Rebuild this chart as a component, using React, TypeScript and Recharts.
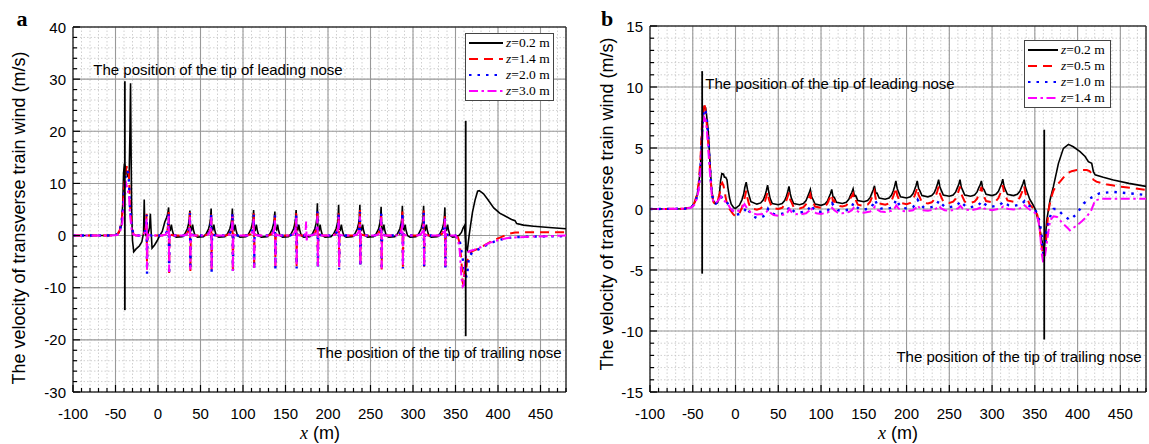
import React from "react";
import { LineChart, Line, XAxis, YAxis, CartesianGrid, ReferenceLine } from "recharts";

type P = [number, number];

// ---------- panel a : z = 0.2 / 1.4 / 2.0 / 3.0 m ----------
const aZ02: P[] = [
  [-100, 0], [-60, 0], [-50, 0.1], [-46, 0.5], [-43, 2], [-41.5, 6], [-40.5, 12], [-39.5, 13.8], [-38, 13], [-36, 11.5],
  [-34, 11], [-33, 20], [-32.3, 29.2], [-31.6, 15], [-31, 5], [-30, -1], [-28.5, -3.1], [-26, -2.6], [-22, -2], [-19, -1.2],
  [-17, 0.5], [-16.2, 6.9], [-15.5, 1], [-14, 0], [-12, 0.2], [-10, 1.5], [-9, 4.2], [-8.3, 1.5], [-7, -2.4], [-4, -1.8],
  [-1, -1], [2, 0], [5, 0.8], [8, 2.6], [10, 3.4], [11.5, 4.2],
  [12.5, 5.4], [13.1, 1.4], [14.5, 1.1], [15.7, 2.1], [16.7, 1.1], [18.5, 0], [21.5, -0.3],
  [28.5, -0.2], [31.5, 0.3], [34.5, 1.3], [36, 2.3], [36.8, 3.2], [37.5, 4.8], [38.1, 1.4], [39.5, 1.1], [40.7, 2.1], [41.7, 1.1], [43.5, 0], [46.5, -0.3],
  [53.5, -0.2], [56.5, 0.3], [59.5, 1.3], [61, 2.3], [61.8, 3.2], [62.5, 5.2], [63.1, 1.4], [64.5, 1.1], [65.7, 2.1], [66.7, 1.1], [68.5, 0], [71.5, -0.3],
  [78.5, -0.2], [81.5, 0.3], [84.5, 1.3], [86, 2.3], [86.8, 3.2], [87.5, 5.2], [88.1, 1.4], [89.5, 1.1], [90.7, 2.1], [91.7, 1.1], [93.5, 0], [96.5, -0.3],
  [103.5, -0.2], [106.5, 0.3], [109.5, 1.3], [111, 2.3], [111.8, 3.2], [112.5, 4.9], [113.1, 1.4], [114.5, 1.1], [115.7, 2.1], [116.7, 1.1], [118.5, 0], [121.5, -0.3],
  [128.5, -0.2], [131.5, 0.3], [134.5, 1.3], [136, 2.3], [136.8, 3.2], [137.5, 4.6], [138.1, 1.4], [139.5, 1.1], [140.7, 2.1], [141.7, 1.1], [143.5, 0], [146.5, -0.3],
  [153.5, -0.2], [156.5, 0.3], [159.5, 1.3], [161, 2.3], [161.8, 3.2], [162.5, 4.9], [163.1, 1.4], [164.5, 1.1], [165.7, 2.1], [166.7, 1.1], [168.5, 0], [171.5, -0.3],
  [178.5, -0.2], [181.5, 0.3], [184.5, 1.3], [186, 2.3], [186.8, 3.2], [187.5, 6.2], [188.1, 1.4], [189.5, 1.1], [190.7, 2.1], [191.7, 1.1], [193.5, 0], [196.5, -0.3],
  [203.5, -0.2], [206.5, 0.3], [209.5, 1.3], [211, 2.3], [211.8, 3.2], [212.5, 5.9], [213.1, 1.4], [214.5, 1.1], [215.7, 2.1], [216.7, 1.1], [218.5, 0], [221.5, -0.3],
  [228.5, -0.2], [231.5, 0.3], [234.5, 1.3], [236, 2.3], [236.8, 3.2], [237.5, 5.9], [238.1, 1.4], [239.5, 1.1], [240.7, 2.1], [241.7, 1.1], [243.5, 0], [246.5, -0.3],
  [253.5, -0.2], [256.5, 0.3], [259.5, 1.3], [261, 2.3], [261.8, 3.2], [262.5, 5.5], [263.1, 1.4], [264.5, 1.1], [265.7, 2.1], [266.7, 1.1], [268.5, 0], [271.5, -0.3],
  [278.5, -0.2], [281.5, 0.3], [284.5, 1.3], [286, 2.3], [286.8, 3.2], [287.5, 5.7], [288.1, 1.4], [289.5, 1.1], [290.7, 2.1], [291.7, 1.1], [293.5, 0], [296.5, -0.3],
  [303.5, -0.2], [306.5, 0.3], [309.5, 1.3], [311, 2.3], [311.8, 3.2], [312.5, 5.7], [313.1, 1.4], [314.5, 1.1], [315.7, 2.1], [316.7, 1.1], [318.5, 0], [321.5, -0.3],
  [328.5, -0.2], [331.5, 0.3], [334.5, 1.3], [336, 2.3], [336.8, 3.2], [337.5, 5.4], [338.1, 1.4], [339.5, 1.1], [340.7, 2.1], [341.7, 1.1], [343.5, 0], [346.5, -0.3],
  [350, -0.2], [354, 0], [357, 0.6], [359, 1.5], [360.5, 1.9], [361.5, 0], [362.5, -2.4], [364, -2.8], [366, 0], [368, 2.3],
  [370, 4.5], [373, 6.8], [376, 8.5], [378, 8.6], [383, 8.0], [388, 6.9], [395, 5.3], [402, 4.3], [410, 3.6], [416, 3.1],
  [420, 2.85], [422, 2.3], [430, 2.0], [442, 1.8], [460, 1.55], [480, 1.3],
];

const aZ14: P[] = [
  [-100, 0], [-55, 0], [-48, 0.2], [-45, 1], [-42, 4], [-40, 9], [-38, 12.5], [-36, 13.5], [-35, 13.3], [-34, 11],
  [-33, 6], [-31, 2], [-29, 0.3], [-26, 0],
  [-21, 0], [-17, 0.3], [-15, 1.0], [-14, 2.0], [-13.4, 4.2], [-12.9, -6.5], [-12.4, 0.3], [-10, 0.1], [-7, 0],
  [5, 0], [9, 0.3], [11, 1.0], [12, 2.0], [12.6, 4.5], [13.1, -7.2], [13.6, 0.3], [16, 0.1], [19, 0],
  [30, 0], [34, 0.3], [36, 1.0], [37, 2.0], [37.6, 4.6], [38.1, -6.8], [38.6, 0.3], [41, 0.1], [44, 0],
  [55, 0], [59, 0.3], [61, 1.0], [62, 2.0], [62.6, 4.5], [63.1, -6.8], [63.6, 0.3], [66, 0.1], [69, 0],
  [80, 0], [84, 0.3], [86, 1.0], [87, 2.0], [87.6, 4.5], [88.1, -7.0], [88.6, 0.3], [91, 0.1], [94, 0],
  [105, 0], [109, 0.3], [111, 1.0], [112, 2.0], [112.6, 4.3], [113.1, -6.5], [113.6, 0.3], [116, 0.1], [119, 0],
  [130, 0], [134, 0.3], [136, 1.0], [137, 2.0], [137.6, 4.2], [138.1, -6.0], [138.6, 0.3], [141, 0.1], [144, 0],
  [155, 0], [159, 0.3], [161, 1.0], [162, 2.0], [162.6, 4.3], [163.1, -6.2], [163.6, 0.3], [166, 0.1], [169, 0],
  [180, 0], [184, 0.3], [186, 1.0], [187, 2.0], [187.6, 5.0], [188.1, -6.2], [188.6, 0.3], [191, 0.1], [194, 0],
  [205, 0], [209, 0.3], [211, 1.0], [212, 2.0], [212.6, 4.6], [213.1, -6.0], [213.6, 0.3], [216, 0.1], [219, 0],
  [230, 0], [234, 0.3], [236, 1.0], [237, 2.0], [237.6, 4.9], [238.1, -5.5], [238.6, 0.3], [241, 0.1], [244, 0],
  [255, 0], [259, 0.3], [261, 1.0], [262, 2.0], [262.6, 4.4], [263.1, -6.5], [263.6, 0.3], [266, 0.1], [269, 0],
  [280, 0], [284, 0.3], [286, 1.0], [287, 2.0], [287.6, 4.6], [288.1, -6.0], [288.6, 0.3], [291, 0.1], [294, 0],
  [305, 0], [309, 0.3], [311, 1.0], [312, 2.0], [312.6, 4.8], [313.1, -6.0], [313.6, 0.3], [316, 0.1], [319, 0],
  [330, 0], [334, 0.3], [336, 1.0], [337, 2.0], [337.6, 4.0], [338.1, -6.0], [338.6, 0.3], [341, 0.1], [344, 0],
  [350, 0], [353, -0.4], [355, -1.5], [357, -5], [358.5, -9], [359.5, -9.5], [360.5, -7], [362, -7.5], [363.5, -5], [366, -3.5],
  [370, -3], [378, -2.4], [388, -1.5], [396, -0.8], [405, -0.2], [412, 0.3], [420, 0.6], [440, 0.65], [480, 0.65],
];

const aZ20: P[] = [
  [-100, 0], [-55, 0], [-48, 0.2], [-45, 0.8], [-42, 3.5], [-40, 8], [-38, 11.5], [-36.5, 12.5], [-35, 12], [-34, 10],
  [-33, 5.5], [-31, 1.8], [-29, 0.3], [-26, 0],
  [-21, 0], [-17, 0.3], [-15, 0.9], [-14, 1.8], [-13.4, 4.0], [-12.9, -7.3], [-12.4, 0.3], [-10, 0.1], [-7, 0],
  [5, 0], [9, 0.3], [11, 0.9], [12, 1.8], [12.6, 4.3], [13.1, -7.5], [13.6, 0.3], [16, 0.1], [19, 0],
  [30, 0], [34, 0.3], [36, 0.9], [37, 1.8], [37.6, 4.3], [38.1, -6.5], [38.6, 0.3], [41, 0.1], [44, 0],
  [55, 0], [59, 0.3], [61, 0.9], [62, 1.8], [62.6, 4.2], [63.1, -7.0], [63.6, 0.3], [66, 0.1], [69, 0],
  [80, 0], [84, 0.3], [86, 0.9], [87, 1.8], [87.6, 4.3], [88.1, -6.8], [88.6, 0.3], [91, 0.1], [94, 0],
  [105, 0], [109, 0.3], [111, 0.9], [112, 1.8], [112.6, 4.0], [113.1, -6.5], [113.6, 0.3], [116, 0.1], [119, 0],
  [130, 0], [134, 0.3], [136, 0.9], [137, 1.8], [137.6, 3.9], [138.1, -6.3], [138.6, 0.3], [141, 0.1], [144, 0],
  [155, 0], [159, 0.3], [161, 0.9], [162, 1.8], [162.6, 4.1], [163.1, -6.3], [163.6, 0.3], [166, 0.1], [169, 0],
  [180, 0], [184, 0.3], [186, 0.9], [187, 1.8], [187.6, 4.6], [188.1, -6.3], [188.6, 0.3], [191, 0.1], [194, 0],
  [205, 0], [209, 0.3], [211, 0.9], [212, 1.8], [212.6, 4.4], [213.1, -6.5], [213.6, 0.3], [216, 0.1], [219, 0],
  [230, 0], [234, 0.3], [236, 0.9], [237, 1.8], [237.6, 4.5], [238.1, -6.0], [238.6, 0.3], [241, 0.1], [244, 0],
  [255, 0], [259, 0.3], [261, 0.9], [262, 1.8], [262.6, 4.2], [263.1, -6.6], [263.6, 0.3], [266, 0.1], [269, 0],
  [280, 0], [284, 0.3], [286, 0.9], [287, 1.8], [287.6, 4.4], [288.1, -6.3], [288.6, 0.3], [291, 0.1], [294, 0],
  [305, 0], [309, 0.3], [311, 0.9], [312, 1.8], [312.6, 4.5], [313.1, -6.1], [313.6, 0.3], [316, 0.1], [319, 0],
  [330, 0], [334, 0.3], [336, 0.9], [337, 1.8], [337.6, 3.8], [338.1, -6.3], [338.6, 0.3], [341, 0.1], [344, 0],
  [350, 0], [355, -1], [358, -4], [360, -6], [362, -7.5], [363, -8], [364, -7], [366, -4], [370, -3.2], [380, -2.4],
  [390, -1.5], [400, -0.9], [410, -0.5], [420, -0.3], [440, -0.2], [480, -0.1],
];

const aZ30: P[] = [
  [-100, 0], [-55, 0], [-48, 0.1], [-45, 0.5], [-42, 2.5], [-40, 6.5], [-38.5, 9.5], [-37.5, 10], [-36, 9], [-34, 7.5],
  [-33, 4], [-31, 1.2], [-29, 0.2], [-26, 0],
  [-21, 0], [-17, 0.2], [-15, 0.7], [-14, 1.4], [-13.4, 3.5], [-12.9, -6.5], [-12.4, 0.2], [-10, 0.05], [-7, 0],
  [5, 0], [9, 0.2], [11, 0.7], [12, 1.4], [12.6, 3.8], [13.1, -7.0], [13.6, 0.2], [16, 0.05], [19, 0],
  [30, 0], [34, 0.2], [36, 0.7], [37, 1.4], [37.6, 3.6], [38.1, -6.5], [38.6, 0.2], [41, 0.05], [44, 0],
  [55, 0], [59, 0.2], [61, 0.7], [62, 1.4], [62.6, 3.5], [63.1, -6.6], [63.6, 0.2], [66, 0.05], [69, 0],
  [80, 0], [84, 0.2], [86, 0.7], [87, 1.4], [87.6, 3.6], [88.1, -6.8], [88.6, 0.2], [91, 0.05], [94, 0],
  [105, 0], [109, 0.2], [111, 0.7], [112, 1.4], [112.6, 3.4], [113.1, -6.2], [113.6, 0.2], [116, 0.05], [119, 0],
  [130, 0], [134, 0.2], [136, 0.7], [137, 1.4], [137.6, 3.2], [138.1, -5.8], [138.6, 0.2], [141, 0.05], [144, 0],
  [155, 0], [159, 0.2], [161, 0.7], [162, 1.4], [162.6, 3.4], [163.1, -5.8], [163.6, 0.2], [166, 0.05], [169, 0],
  [172, 0], [173.5, 0.4], [174.3, 2.7], [175, -1.2], [175.6, 0.2], [178, 0],
  [180, 0], [184, 0.2], [186, 0.7], [187, 1.4], [187.6, 3.8], [188.1, -5.9], [188.6, 0.2], [191, 0.05], [194, 0],
  [205, 0], [209, 0.2], [211, 0.7], [212, 1.4], [212.6, 3.6], [213.1, -6.0], [213.6, 0.2], [216, 0.05], [219, 0],
  [230, 0], [234, 0.2], [236, 0.7], [237, 1.4], [237.6, 3.7], [238.1, -5.5], [238.6, 0.2], [241, 0.05], [244, 0],
  [255, 0], [259, 0.2], [261, 0.7], [262, 1.4], [262.6, 3.5], [263.1, -6.3], [263.6, 0.2], [266, 0.05], [269, 0],
  [280, 0], [284, 0.2], [286, 0.7], [287, 1.4], [287.6, 3.6], [288.1, -5.9], [288.6, 0.2], [291, 0.05], [294, 0],
  [305, 0], [309, 0.2], [311, 0.7], [312, 1.4], [312.6, 3.7], [313.1, -5.8], [313.6, 0.2], [316, 0.05], [319, 0],
  [330, 0], [334, 0.2], [336, 0.7], [337, 1.4], [337.6, 3.2], [338.1, -5.9], [338.6, 0.2], [341, 0.05], [344, 0],
  [350, 0], [353, -0.8], [355, -3], [357, -8], [358.5, -9.8], [360, -9.5], [361.5, -5], [363, -3.5], [366, -3], [372, -2.7],
  [380, -2.2], [390, -1.4], [400, -0.9], [410, -0.5], [420, -0.35], [440, -0.2], [480, 0],
];

// vertical markers at the nose tips (panel a)
const aLeadMark: P[] = [[-39, -14.3], [-39, 29.6]];
const aTrailMark: P[] = [[362, -19.3], [362, 22]];

// ---------- panel b : z = 0.2 / 0.5 / 1.0 / 1.4 m ----------
const bZ02: P[] = [
  [-100, 0], [-60, 0.02], [-52, 0.15], [-48, 0.5], [-45, 1.1], [-43, 2], [-41, 3.5], [-39.5, 5.5], [-38, 7.8], [-36.5, 8.4],
  [-35, 8.3], [-34, 7.8], [-32, 6.5], [-30, 4], [-28, 1.6], [-26, 0.7], [-24, 0.45], [-21, 0.5], [-19, 1], [-17.5, 2.3],
  [-16, 2.9], [-14, 2.85], [-13, 2.6], [-11.5, 2.6], [-10, 2.4], [-9, 1.8], [-7, 0.9], [-5, 0.4], [-2, 0.1], [0, 0.05],
  [4.5, 0.3], [7.5, 0.75], [9.5, 1.2], [11, 1.8], [12.5, 2.2], [14, 1.6], [15.5, 1.2], [18, 0.6], [25, 0.4],
  [29.5, 0.5], [32.5, 0.75], [34.5, 1.1], [36, 1.5], [37.5, 1.95], [39, 1.35], [40.5, 0.85], [43, 0.45], [50, 0.35],
  [54.5, 0.45], [57.5, 0.7], [59.5, 1.05], [61, 1.4], [62.5, 1.85], [64, 1.25], [65.5, 0.85], [68, 0.45], [75, 0.35],
  [79.5, 0.45], [82.5, 0.7], [84.5, 1.05], [86, 1.3], [87.5, 1.6], [89, 1.0], [90.5, 0.8], [93, 0.4], [100, 0.3],
  [104.5, 0.4], [107.5, 0.65], [109.5, 1.0], [111, 1.25], [112.5, 1.6], [114, 1.0], [115.5, 0.95], [118, 0.55], [125, 0.45],
  [129.5, 0.55], [132.5, 0.8], [134.5, 1.15], [136, 1.35], [137.5, 1.65], [139, 1.05], [140.5, 1.1], [143, 0.7], [150, 0.6],
  [154.5, 0.7], [157.5, 0.95], [159.5, 1.3], [161, 1.55], [162.5, 1.9], [164, 1.3], [165.5, 1.3], [168, 0.9], [175, 0.8],
  [179.5, 0.9], [182.5, 1.15], [184.5, 1.5], [186, 1.85], [187.5, 2.3], [189, 1.7], [190.5, 1.4], [193, 1.0], [200, 0.9],
  [204.5, 1.0], [207.5, 1.25], [209.5, 1.6], [211, 1.9], [212.5, 2.3], [214, 1.7], [215.5, 1.5], [218, 1.1], [225, 1.0],
  [229.5, 1.1], [232.5, 1.35], [234.5, 1.7], [236, 2.0], [237.5, 2.4], [239, 1.8], [240.5, 1.55], [243, 1.15], [250, 1.05],
  [254.5, 1.15], [257.5, 1.4], [259.5, 1.75], [261, 2.0], [262.5, 2.4], [264, 1.8], [265.5, 1.55], [268, 1.15], [275, 1.05],
  [279.5, 1.15], [282.5, 1.4], [284.5, 1.75], [286, 1.95], [287.5, 2.3], [289, 1.7], [290.5, 1.6], [293, 1.2], [300, 1.1],
  [304.5, 1.2], [307.5, 1.45], [309.5, 1.8], [311, 2.05], [312.5, 2.45], [314, 1.85], [315.5, 1.6], [318, 1.2], [325, 1.1],
  [329.5, 1.2], [332.5, 1.45], [334.5, 1.8], [336, 2.05], [337.5, 2.4], [339, 1.8],
  [341, 1.4], [344, 0.8], [347, 0.45], [350, 0.05], [354, -0.9], [358, -2.5], [360.8, -3.4], [362.5, -2.2], [364, -0.9], [367.8, 0.74],
  [371.7, 1.83], [377.6, 3.74], [383.4, 4.97], [389.3, 5.3], [395, 5.1], [402.9, 4.7], [408.8, 4.3], [412.6, 3.88], [416.5, 3.74], [418.5, 3.06],
  [420.5, 2.8], [430, 2.6], [441.9, 2.38], [460, 2.1], [480, 1.85],
];

const bZ05: P[] = [
  [-100, 0], [-60, 0.02], [-52, 0.15], [-48, 0.5], [-45, 1.2], [-43, 2.2], [-41, 4], [-39.5, 6.5], [-38, 8.4], [-37, 8.7],
  [-35.5, 8.3], [-34, 7.3], [-32, 5.5], [-30, 3.5], [-28, 1.5], [-26, 0.6], [-24, 0.4], [-21, 0.6], [-18.5, 1.3], [-17, 2.0],
  [-15.5, 2.15], [-14, 1.9], [-12.5, 1.3], [-10.5, 0.6], [-7, 0], [-3, -0.4], [0, -0.6],
  [4.5, -0.35], [7.5, 0.1], [9.5, 0.6], [11, 1.0], [12.5, 1.5], [14, 0.9], [15.5, 0.45], [18, 0.05], [25, -0.05],
  [29.5, 0.05], [32.5, 0.3], [34.5, 0.65], [36, 1.0], [37.5, 1.4], [39, 0.8], [40.5, 0.5], [43, 0.1], [50, 0.0],
  [54.5, 0.1], [57.5, 0.35], [59.5, 0.7], [61, 1.0], [62.5, 1.35], [64, 0.75], [65.5, 0.55], [68, 0.15], [75, 0.05],
  [79.5, 0.15], [82.5, 0.4], [84.5, 0.75], [86, 0.95], [87.5, 1.2], [89, 0.6], [90.5, 0.6], [93, 0.2], [100, 0.1],
  [104.5, 0.2], [107.5, 0.45], [109.5, 0.8], [111, 1.0], [112.5, 1.2], [114, 0.6], [115.5, 0.7], [118, 0.3], [125, 0.2],
  [129.5, 0.3], [132.5, 0.55], [134.5, 0.9], [136, 1.05], [137.5, 1.25], [139, 0.65], [140.5, 0.75], [143, 0.35], [150, 0.25],
  [154.5, 0.35], [157.5, 0.6], [159.5, 0.95], [161, 1.15], [162.5, 1.45], [164, 0.85], [165.5, 0.85], [168, 0.45], [175, 0.35],
  [179.5, 0.45], [182.5, 0.7], [184.5, 1.05], [186, 1.35], [187.5, 1.75], [189, 1.15], [190.5, 0.9], [193, 0.5], [200, 0.4],
  [204.5, 0.5], [207.5, 0.75], [209.5, 1.1], [211, 1.4], [212.5, 1.75], [214, 1.15], [215.5, 0.95], [218, 0.55], [225, 0.45],
  [229.5, 0.55], [232.5, 0.8], [234.5, 1.15], [236, 1.45], [237.5, 1.85], [239, 1.25], [240.5, 1.0], [243, 0.6], [250, 0.5],
  [254.5, 0.6], [257.5, 0.85], [259.5, 1.2], [261, 1.5], [262.5, 1.85], [264, 1.25], [265.5, 1.0], [268, 0.6], [275, 0.5],
  [279.5, 0.6], [282.5, 0.85], [284.5, 1.2], [286, 1.45], [287.5, 1.8], [289, 1.2], [290.5, 1.05], [293, 0.65], [300, 0.55],
  [304.5, 0.65], [307.5, 0.9], [309.5, 1.25], [311, 1.55], [312.5, 1.95], [314, 1.35], [315.5, 1.1], [318, 0.7], [325, 0.6],
  [329.5, 0.7], [332.5, 0.95], [334.5, 1.3], [336, 1.55], [337.5, 1.9], [339, 1.3],
  [341, 0.9], [344, 0.35], [347, 0.15], [350, -0.1], [353, -0.5], [355.4, -1.4], [357.5, -2.8], [359.3, -3.6], [361, -3.9], [362.5, -3.2],
  [364, -1.8], [366, -0.1], [369, 0.9], [371.7, 1.5], [375, 1.9], [379.5, 2.24], [387.3, 2.9], [393, 3.1], [399, 3.2], [405, 3.2],
  [410.7, 3.2], [414, 3.1], [416.5, 2.9], [418.5, 2.4], [422, 2.24], [435, 2.0], [449.7, 1.83], [465, 1.7], [480, 1.56],
];

const bZ10: P[] = [
  [-100, 0], [-60, 0.02], [-52, 0.12], [-48, 0.4], [-45, 1.0], [-43, 1.8], [-41, 3.3], [-39.5, 5.5], [-38, 7.6], [-36.5, 8.2],
  [-35, 8.0], [-33.5, 7.4], [-32, 6.0], [-30, 3.6], [-28, 1.5], [-26, 0.6], [-23, 0.45], [-20, 0.7], [-17, 1.0], [-15, 0.9],
  [-12, 0.7], [-9, 0.45], [-6, 0.15], [-3, -0.2], [0, -0.5],
  [7.5, -0.35], [11, -0.1], [13, 0.15], [15.5, -0.15], [19.5, -0.55], [25, -0.75],
  [32.5, -0.6], [36, -0.35], [38, 0.0], [40.5, -0.3], [44.5, -0.4], [50, -0.45],
  [57.5, -0.35], [61, -0.1], [63, 0.2], [65.5, -0.05], [69.5, -0.25], [75, -0.3],
  [82.5, -0.2], [86, 0.05], [88, 0.35], [90.5, 0.1], [94.5, -0.2], [100, -0.25],
  [107.5, -0.15], [111, 0.15], [113, 0.45], [115.5, 0.2], [119.5, -0.1], [125, -0.15],
  [132.5, -0.05], [136, 0.2], [138, 0.5], [140.5, 0.25], [144.5, 0.0], [150, -0.05],
  [157.5, 0.05], [161, 0.4], [163, 0.75], [165.5, 0.4], [169.5, 0.05], [175, 0.0],
  [182.5, 0.1], [186, 0.45], [188, 0.8], [190.5, 0.45], [194.5, 0.1], [200, 0.05],
  [207.5, 0.15], [211, 0.45], [213, 0.75], [215.5, 0.45], [219.5, 0.15], [225, 0.1],
  [232.5, 0.2], [236, 0.45], [238, 0.7], [240.5, 0.45], [244.5, 0.2], [250, 0.15],
  [257.5, 0.25], [261, 0.45], [263, 0.65], [265.5, 0.45], [269.5, 0.2], [275, 0.15],
  [282.5, 0.25], [286, 0.45], [288, 0.65], [290.5, 0.45], [294.5, 0.25], [300, 0.2],
  [307.5, 0.3], [311, 0.45], [313, 0.6], [315.5, 0.45], [319.5, 0.3], [325, 0.25],
  [332.5, 0.35], [336, 0.5], [338, 0.65], [341, 0.35], [345, 0.2], [350, 0.0], [354, -0.6], [356, -1.2], [358, -2.2], [360, -3.8],
  [361.5, -3.3], [363, -2.2], [364.5, -1.5], [368, -0.6], [372, 0.0], [376, 0.0], [383, -0.5], [391, -0.9], [399, -0.4], [407, 0.45],
  [414, 0.85], [426, 1.3], [442, 1.4], [458, 1.3], [480, 1.15],
];

const bZ14: P[] = [
  [-100, 0], [-60, 0.02], [-52, 0.1], [-48, 0.35], [-45, 0.9], [-43, 1.6], [-41, 3], [-39.5, 5], [-38, 6.8], [-36.5, 7.5],
  [-35, 7.3], [-33.5, 6.5], [-32, 5.0], [-30, 3.0], [-28, 1.3], [-26, 0.6], [-23, 0.5], [-20, 0.7], [-17, 1.0], [-15, 0.8],
  [-12, 0.6], [-9, 0.4], [-6, 0.05], [-3, -0.15], [0, -0.25],
  [5, -0.1], [8.5, 0.2], [10.5, 0.4], [13.5, 0.05], [18, -0.3], [25, -0.45],
  [32.5, -0.4], [36, -0.25], [38, -0.1], [40.5, -0.3], [44.5, -0.5], [50, -0.55],
  [57.5, -0.45], [61, -0.25], [63, 0.0], [65.5, -0.25], [69.5, -0.4], [75, -0.45],
  [82.5, -0.35], [86, -0.15], [88, 0.1], [90.5, -0.15], [94.5, -0.35], [100, -0.4],
  [107.5, -0.3], [111, -0.1], [113, 0.1], [115.5, -0.1], [119.5, -0.3], [125, -0.35],
  [132.5, -0.25], [136, -0.1], [138, 0.1], [140.5, -0.1], [144.5, -0.25], [150, -0.3],
  [157.5, -0.2], [161, 0.0], [163, 0.2], [165.5, -0.05], [169.5, -0.2], [175, -0.25],
  [182.5, -0.15], [186, 0.05], [188, 0.3], [190.5, 0.05], [194.5, -0.15], [200, -0.2],
  [207.5, -0.1], [211, 0.1], [213, 0.3], [215.5, 0.05], [219.5, -0.1], [225, -0.15],
  [232.5, -0.05], [236, 0.1], [238, 0.25], [240.5, 0.05], [244.5, -0.1], [250, -0.15],
  [257.5, -0.05], [261, 0.1], [263, 0.25], [265.5, 0.05], [269.5, -0.05], [275, -0.1],
  [282.5, 0.0], [286, 0.1], [288, 0.2], [290.5, 0.05], [294.5, -0.05], [300, -0.1],
  [307.5, 0.0], [311, 0.1], [313, 0.2], [315.5, 0.05], [319.5, 0.0], [325, -0.05],
  [332.5, 0.05], [336, 0.15], [338, 0.3], [341, 0.1], [345, -0.1], [350, -0.3], [354, -0.9], [356, -1.8], [358, -3.6], [360, -4.5],
  [362, -3.8], [364, -2.8], [366, -1.8], [368, -0.9], [372, -0.6], [376, -0.65], [383, -1.2], [389, -1.6], [391, -1.75], [399, -1.35],
  [405, -1.0], [411, -0.6], [416, -0.1], [420.5, 0.7], [428, 0.85], [440, 0.85], [480, 0.85],
];

const bLeadMark: P[] = [[-39, -5.3], [-39, 11.3]];
const bTrailMark: P[] = [[361, -10.7], [361, 6.5]];

// axis ticks
const xTicks = [-100, -90, -80, -70, -60, -50, -40, -30, -20, -10, 0, 10, 20, 30, 40, 50, 60, 70, 80, 90, 100, 110, 120, 130, 140, 150, 160, 170, 180, 190, 200, 210, 220, 230, 240, 250, 260, 270, 280, 290, 300, 310, 320, 330, 340, 350, 360, 370, 380, 390, 400, 410, 420, 430, 440, 450, 460, 470, 480];
const xMajor = [-50, 0, 50, 100, 150, 200, 250, 300, 350, 400, 450];
const aYTicks = [-30, -28, -26, -24, -22, -20, -18, -16, -14, -12, -10, -8, -6, -4, -2, 0, 2, 4, 6, 8, 10, 12, 14, 16, 18, 20, 22, 24, 26, 28, 30, 32, 34, 36, 38, 40];
const aYMajor = [-20, -10, 0, 10, 20, 30];
const bYTicks = [-15, -14, -13, -12, -11, -10, -9, -8, -7, -6, -5, -4, -3, -2, -1, 0, 1, 2, 3, 4, 5, 6, 7, 8, 9, 10, 11, 12, 13, 14, 15];
const bYMajor = [-10, -5, 0, 5, 10];

const aLabels = ["=0.2 m", "=1.4 m", "=2.0 m", "=3.0 m"];
const bLabels = ["=0.2 m", "=0.5 m", "=1.0 m", "=1.4 m"];

const SANS = '"Liberation Sans", Arial, sans-serif';
const SERIF = '"Liberation Serif", "Times New Roman", serif';

const styles = [
  { stroke: "#000000", dash: undefined as string | undefined, width: 1.6 },
  { stroke: "#ff0000", dash: "9 6", width: 2 },
  { stroke: "#0000ff", dash: "2.5 6", width: 2.4 },
  { stroke: "#ff00ff", dash: "9 3.5 2.5 3.5", width: 2 },
];

const toPts = (arr: P[]) => arr.map(([x, y]) => ({ x, y }));

const isMul = (v: number, m: number) => Math.abs(v / m - Math.round(v / m)) < 1e-6;

const makeXTick = (major: number) => (props: any) => {
  const { x, y, payload } = props;
  const big = isMul(payload.value, major);
  return (
    <g>
      <line x1={x} x2={x} y1={y} y2={y - (big ? 7 : 4)} stroke="#000" strokeWidth={1.2} />
      {big && (
        <text x={x} y={y + 27} textAnchor="middle" fontSize={15} fontFamily={SANS} fill="#000">
          {payload.value}
        </text>
      )}
    </g>
  );
};

const makeYTick = (major: number) => (props: any) => {
  const { x, y, payload } = props;
  const big = isMul(payload.value, major);
  return (
    <g>
      <line x1={x} x2={x + (big ? 7 : 4)} y1={y} y2={y} stroke="#000" strokeWidth={1.2} />
      {big && (
        <text x={x - 7} y={y + 5.5} textAnchor="end" fontSize={15} fontFamily={SANS} fill="#000">
          {payload.value}
        </text>
      )}
    </g>
  );
};

function Txt({ x, y, children, style }: { x: number; y: number; children: React.ReactNode; style?: React.CSSProperties }) {
  return (
    <div
      style={{
        position: "absolute", left: x, top: y, transform: "translate(-50%, -50%)",
        whiteSpace: "nowrap", fontFamily: SANS, fontSize: 15, color: "#000", lineHeight: 1, ...style,
      }}
    >
      {children}
    </div>
  );
}

function LegendBox({ left, top, width, labels, sample }: { left: number; top: number; width: number; labels: string[]; sample: number }) {
  return (
    <div
      style={{
        position: "absolute", left, top, width, background: "#fff", border: "1px solid #444",
        padding: "1px 0 1px 2px", boxSizing: "border-box",
      }}
    >
      {labels.map((lab, i) => (
        <div key={lab} style={{ display: "flex", alignItems: "center", height: 16, whiteSpace: "nowrap" }}>
          <svg width={sample} height={10} style={{ display: "block", flex: "none" }}>
            <line x1={1} x2={sample - 1} y1={5} y2={5} stroke={styles[i].stroke} strokeWidth={i === 0 ? 2 : 2.2} strokeDasharray={styles[i].dash} />
          </svg>
          <span style={{ fontFamily: SERIF, fontSize: 13.5, marginLeft: 2, color: "#000", lineHeight: 1 }}>
            <i>z</i>{lab}
          </span>
        </div>
      ))}
    </div>
  );
}

type PanelProps = {
  series: P[][];
  marks: P[][];
  yDomain: [number, number];
  yTicks: number[];
  yMajor: number[];
  yMajorStep: number;
  width: number;
  margin: { top: number; right: number; bottom: number; left: number };
};

function Panel({ series, marks, yDomain, yTicks, yMajor, yMajorStep, width, margin }: PanelProps) {
  return (
    <LineChart width={width} height={444} margin={margin}>
      <CartesianGrid stroke="#c4c4c4" strokeDasharray="1.5 2" strokeWidth={0.8} />
      {xMajor.map((v) => (
        <ReferenceLine key={"vx" + v} x={v} stroke="#999" strokeWidth={1.1} />
      ))}
      {yMajor.map((v) => (
        <ReferenceLine key={"hy" + v} y={v} stroke="#999" strokeWidth={1.1} />
      ))}
      <ReferenceLine x={480} stroke="#333" strokeWidth={1.5} />
      <ReferenceLine y={yDomain[1]} stroke="#333" strokeWidth={1.5} />
      <XAxis
        type="number" dataKey="x" domain={[-100, 480]} ticks={xTicks} allowDataOverflow interval={0}
        height={30} tickSize={0} tickMargin={0} tickLine={false}
        axisLine={{ stroke: "#333", strokeWidth: 1.5 }} tick={makeXTick(50)}
      />
      <YAxis
        type="number" domain={yDomain} ticks={yTicks} allowDataOverflow interval={0}
        width={40} tickSize={0} tickMargin={0} tickLine={false}
        axisLine={{ stroke: "#333", strokeWidth: 1.5 }} tick={makeYTick(yMajorStep)}
      />
      {series.map((s, i) => (
        <Line
          key={"s" + i} data={toPts(s)} dataKey="y" type="linear" dot={false} activeDot={false}
          stroke={styles[i].stroke} strokeWidth={styles[i].width} strokeDasharray={styles[i].dash}
          isAnimationActive={false}
        />
      ))}
      {marks.map((m, i) => (
        <Line
          key={"m" + i} data={toPts(m)} dataKey="y" type="linear" dot={false} activeDot={false}
          stroke="#000" strokeWidth={1.8} isAnimationActive={false}
        />
      ))}
    </LineChart>
  );
}

export default function App() {
  const yTitle = "The velocity of transverse train wind (m/s)";
  return (
    <div style={{ position: "absolute", left: 0, top: 0, width: 1149, height: 444, background: "#fff", overflow: "hidden" }}>
      <div style={{ position: "absolute", left: 0, top: 0 }}>
        <Panel
          series={[aZ02, aZ14, aZ20, aZ30]} marks={[aLeadMark, aTrailMark]}
          yDomain={[-30, 40]} yTicks={aYTicks} yMajor={aYMajor} yMajorStep={10}
          width={575} margin={{ top: 27, right: 9, bottom: 22, left: 33 }}
        />
      </div>
      <div style={{ position: "absolute", left: 575, top: 0 }}>
        <Panel
          series={[bZ02, bZ05, bZ10, bZ14]} marks={[bLeadMark, bTrailMark]}
          yDomain={[-15, 15]} yTicks={bYTicks} yMajor={bYMajor} yMajorStep={5}
          width={574} margin={{ top: 26, right: 3, bottom: 22, left: 35 }}
        />
      </div>

      <Txt x={22} y={19} style={{ fontFamily: SERIF, fontWeight: "bold", fontSize: 22 }}>a</Txt>
      <Txt x={607} y={19} style={{ fontFamily: SERIF, fontWeight: "bold", fontSize: 22 }}>b</Txt>

      <Txt x={19} y={218} style={{ fontSize: 18, transform: "translate(-50%, -50%) rotate(-90deg)" }}>{yTitle}</Txt>
      <Txt x={607} y={204} style={{ fontSize: 18, transform: "translate(-50%, -50%) rotate(-90deg)" }}>{yTitle}</Txt>

      <Txt x={320} y={433} style={{ fontSize: 18 }}><i style={{ fontFamily: SERIF }}>x</i> (m)</Txt>
      <Txt x={898} y={433} style={{ fontSize: 18 }}><i style={{ fontFamily: SERIF }}>x</i> (m)</Txt>

      <Txt x={218} y={69}>The position of the tip of leading nose</Txt>
      <Txt x={439} y={352}>The position of the tip of trailing nose</Txt>
      <Txt x={830} y={83}>The position of the tip of leading nose</Txt>
      <Txt x={1019} y={356}>The position of the tip of trailing nose</Txt>

      <LegendBox left={465} top={33} width={89} labels={aLabels} sample={36} />
      <LegendBox left={1024} top={40} width={87} labels={bLabels} sample={32} />
    </div>
  );
}
